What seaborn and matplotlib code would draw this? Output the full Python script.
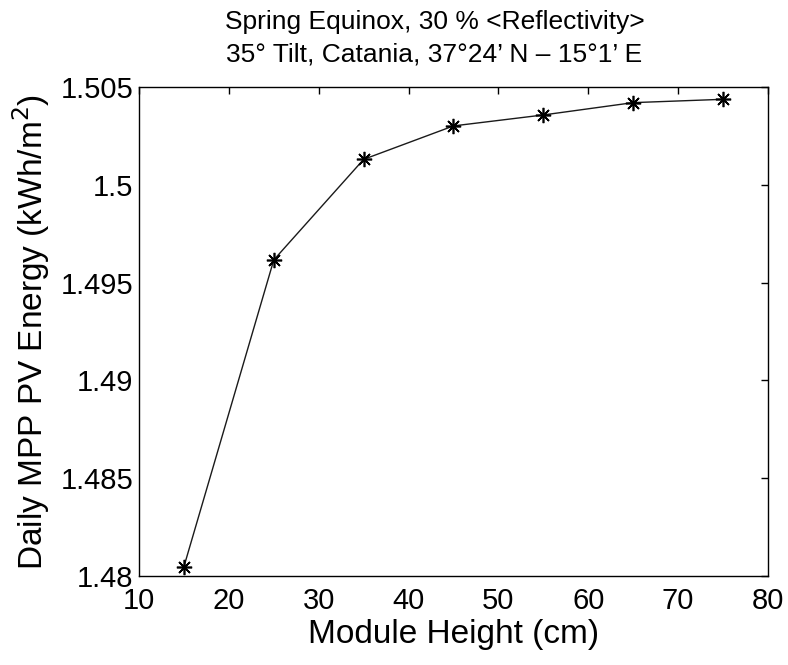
import pandas as pd
import seaborn as sns
import matplotlib.pyplot as plt

# module height (cm) vs daily MPP PV energy (kWh/m^2)
heights = [15, 25, 35, 45, 55, 65, 75]
energy = [1.48048, 1.49616, 1.50130, 1.50301, 1.50357, 1.50420, 1.50437]

x_ticks = [10, 20, 30, 40, 50, 60, 70, 80]
y_ticks = [1.48, 1.485, 1.49, 1.495, 1.5, 1.505]
y_tick_labels = ["1.48", "1.485", "1.49", "1.495", "1.5", "1.505"]

TITLE = "Spring Equinox, 30 % <Reflectivity>\n35° Tilt, Catania, 37°24’ N – 15°1’ E"
OUT = "out.png"


def main():
    df = pd.DataFrame({"height": heights, "energy": energy})

    sns.set_style("white")
    plt.rcParams["font.family"] = ["Liberation Sans", "DejaVu Sans"]
    plt.rcParams.update({
        "text.color": "black",
        "axes.labelcolor": "black",
        "xtick.color": "black",
        "ytick.color": "black",
    })

    fig = plt.figure(figsize=(7.88, 6.65), dpi=100)
    ax = fig.add_axes([0.1764, 0.1338, 0.7982, 0.7354])

    sns.lineplot(
        data=df, x="height", y="energy", ax=ax,
        color="#1a1a1a", linewidth=1.0,
        marker=(8, 2, 0), markersize=11,
        markeredgecolor="black", markeredgewidth=1.2,
    )

    ax.set_xlim(10, 80)
    ax.set_ylim(1.48, 1.505)
    ax.set_xticks(x_ticks)
    ax.set_yticks(y_ticks)
    ax.set_yticklabels(y_tick_labels)

    ax.tick_params(direction="in", length=5, width=1, color="black",
                   labelcolor="black", top=True, right=True, labelsize=21)
    ax.tick_params(axis="x", pad=8)
    ax.tick_params(axis="y", pad=4)
    for s in ax.spines.values():
        s.set_visible(True)
        s.set_color("black")
        s.set_linewidth(1.0)

    ax.set_xlabel("Module Height (cm)", fontsize=24, labelpad=3, color="black")
    ax.set_ylabel("Daily MPP PV Energy (kWh/m$^2$)", fontsize=24, labelpad=6, color="black")
    ax.set_title(TITLE, fontsize=19, linespacing=1.45, pad=18, x=0.47, color="black")

    fig.savefig(OUT, dpi=100)
    plt.close(fig)


if __name__ == "__main__":
    main()
